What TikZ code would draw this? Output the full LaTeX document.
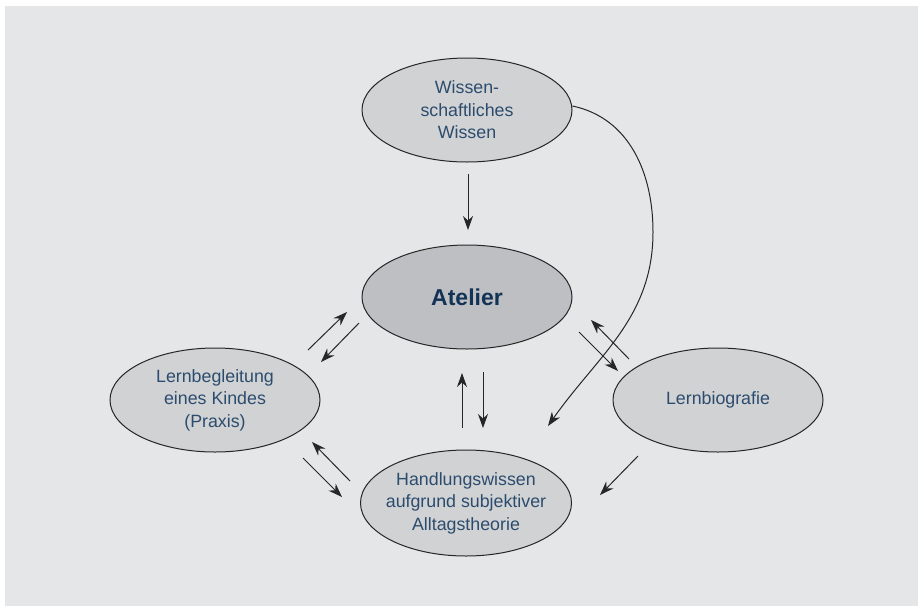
\documentclass[tikz,border=0pt]{standalone}
\usepackage{fontspec}
\setmainfont{Liberation Sans}
\usetikzlibrary{shapes.geometric,arrows.meta}
\definecolor{bggray}{RGB}{229,230,232}
\definecolor{ellfill}{RGB}{209,210,212}
\definecolor{atfill}{RGB}{190,191,194}
\definecolor{txtblue}{RGB}{44,76,110}
\definecolor{atblue}{RGB}{18,50,86}
\begin{document}
\begin{tikzpicture}[x=1pt,y=-1pt,
  bub/.style={ellipse,draw=black!85,line width=1pt,fill=ellfill,minimum width=210pt,minimum height=104pt,inner xsep=-30pt,inner ysep=-10pt,align=center,text=txtblue,font=\fontsize{17.8}{22.5}\selectfont},
  arr/.style={line width=1pt,draw=black!85,-{Stealth[length=14pt,width=10pt]}}]
\useasboundingbox (0,0) rectangle (918,606);
\fill[white] (0,0) rectangle (918,606);
\fill[bggray] (5,6) rectangle (918,606);
\node[bub] (wis) at (467,110) {Wissen-\\schaftliches\\Wissen};
\node[bub,fill=atfill,text=atblue,font=\fontsize{23}{26}\selectfont\bfseries] (at) at (467,297) {Atelier};
\node[bub] (lern) at (215,400) {Lernbegleitung\\eines Kindes\\(Praxis)};
\node[bub] (bio) at (718,400) {Lernbiografie};
\node[bub,minimum width=211pt,minimum height=106pt] (hand) at (466,503) {Handlungswissen\\aufgrund subjektiver\\Alltagstheorie};
% coordinates
\coordinate (a1) at (468,174); \coordinate (a2) at (468,230);
\coordinate (b1) at (462,428); \coordinate (b2) at (462,373);
\coordinate (c1) at (483,372); \coordinate (c2) at (483,428);
\coordinate (d1) at (308,350); \coordinate (d2) at (347,312);
\coordinate (e1) at (359,323); \coordinate (e2) at (321,362);
\coordinate (f1) at (350,481); \coordinate (f2) at (312,442);
\coordinate (g1) at (303,458); \coordinate (g2) at (342,497);
\coordinate (h1) at (579,332); \coordinate (h2) at (618,371);
\coordinate (i1) at (629,359); \coordinate (i2) at (591,320);
\coordinate (j1) at (638,456); \coordinate (j2) at (600,495);
\coordinate (k1) at (653,232); \coordinate (k2) at (548,426);
\draw[arr] (a1) -- (a2);
\draw[arr] (b1) -- (b2);
\draw[arr] (c1) -- (c2);
\draw[arr] (d1) -- (d2);
\draw[arr] (e1) -- (e2);
\draw[arr] (f1) -- (f2);
\draw[arr] (g1) -- (g2);
\draw[arr] (h1) -- (h2);
\draw[arr] (i1) -- (i2);
\draw[arr] (j1) -- (j2);
\draw[arr] (wis.east) ++(0,-4) to[out=-12,in=90] (k1) to[out=-90,in=55] (k2);
\end{tikzpicture}
\end{document}
